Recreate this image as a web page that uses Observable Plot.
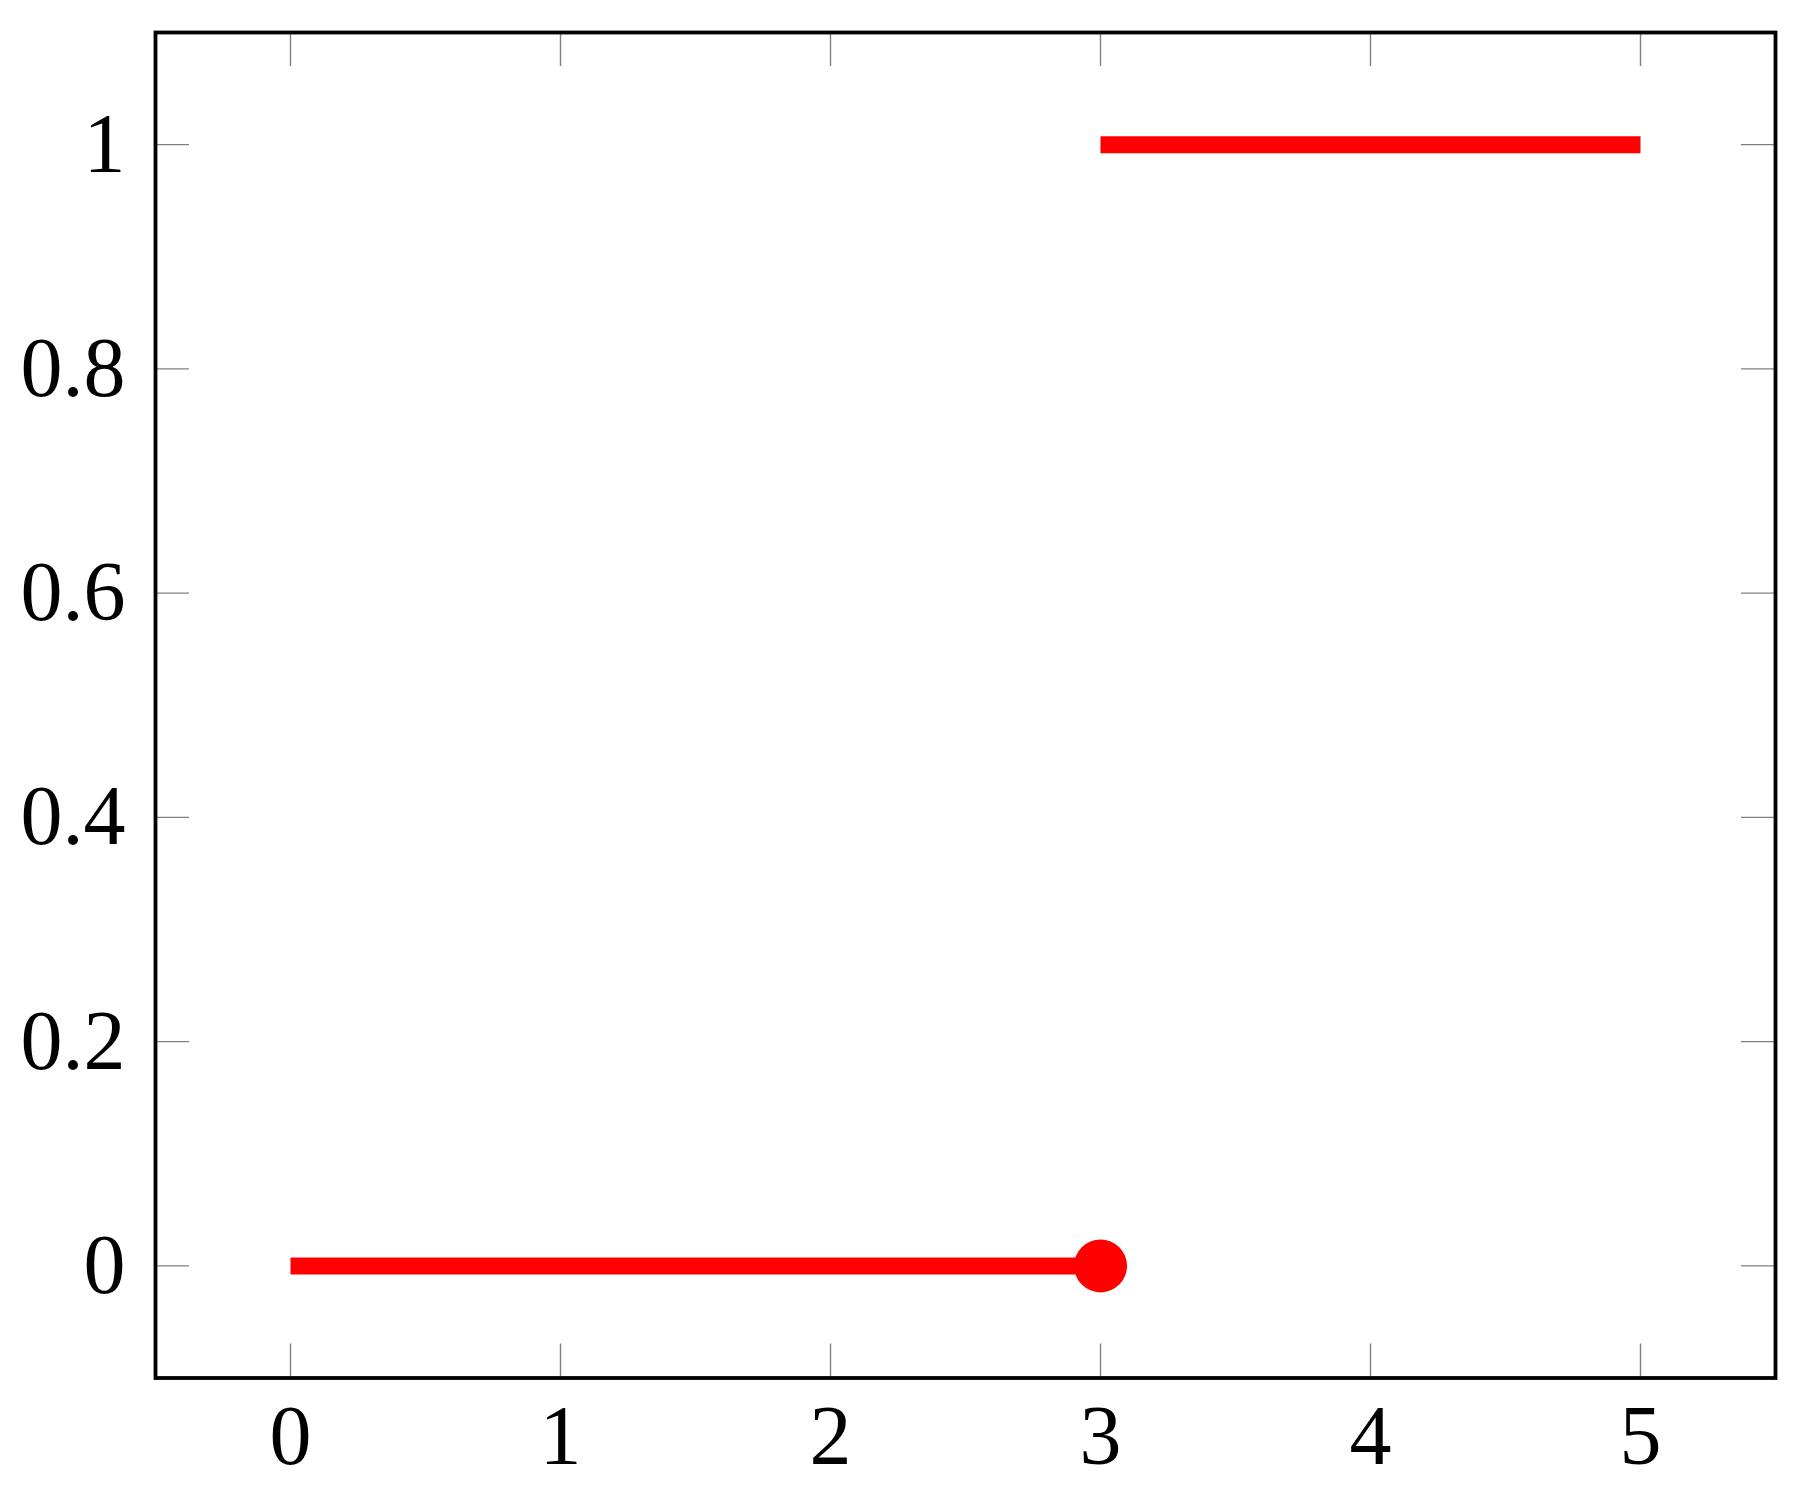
<!DOCTYPE html>
<html>
<head>
<meta charset="utf-8">
<script src="https://cdn.jsdelivr.net/npm/d3@7"></script>
<script src="https://cdn.jsdelivr.net/npm/@observablehq/plot@0.6"></script>
<style>
  html, body { margin: 0; padding: 0; background: #fff; }
  svg { display: block; }
</style>
</head>
<body>
<div id="chart"></div>
<script>
const xTicks = [0, 1, 2, 3, 4, 5];
const yTicks = [0, 0.2, 0.4, 0.6, 0.8, 1];
const segX1 = [0, 3];
const segX2 = [3, 5];
const segY = [0, 1];
const dotX = [3];
const dotY = [0];

const segments = segX1.map((x1, i) => ({x1, x2: segX2[i], y: segY[i]}));
const dots = dotX.map((x, i) => ({x, y: dotY[i]}));

const W = 1803, H = 1490;
const mL = 155, mR = 28, mT = 32, mB = 112.5;
const frameH = H - mT - mB, frameW = W - mL - mR;
const tickLen = 34;
const tickColor = "#808080";

const chart = Plot.plot({
  width: W,
  height: H,
  marginLeft: mL,
  marginRight: mR,
  marginTop: mT,
  marginBottom: mB,
  style: {fontFamily: "'Liberation Serif', 'DejaVu Serif', serif", fontSize: "84px", color: "black", background: "white"},
  x: {domain: [-0.5, 5.5]},
  y: {domain: [-0.1, 1.1]},
  marks: [
    Plot.axisX(xTicks, {anchor: "bottom", tickSize: 0, tickPadding: 26, tickFormat: d => String(d), fontSize: 84, fill: "black", label: null}),
    Plot.axisY(yTicks, {anchor: "left", tickSize: 0, tickPadding: 30, tickFormat: d => String(d), fontSize: 84, fill: "black", label: null}),
    // inward ticks on all four sides
    Plot.tickX(xTicks, {x: d => d, insetTop: frameH - tickLen, stroke: tickColor, strokeWidth: 1.4}),
    Plot.tickX(xTicks, {x: d => d, insetBottom: frameH - tickLen, stroke: tickColor, strokeWidth: 1.4}),
    Plot.tickY(yTicks, {y: d => d, insetRight: frameW - tickLen, stroke: tickColor, strokeWidth: 1.4}),
    Plot.tickY(yTicks, {y: d => d, insetLeft: frameW - tickLen, stroke: tickColor, strokeWidth: 1.4}),
    Plot.link(segments, {x1: "x1", x2: "x2", y1: "y", y2: "y", stroke: "#ff0000", strokeWidth: 17, strokeLinecap: "butt"}),
    Plot.dot(dots, {x: "x", y: "y", r: 26.5, fill: "#ff0000", stroke: "none"}),
    Plot.frame({stroke: "black", strokeWidth: 3.8})
  ]
});
document.getElementById("chart").appendChild(chart);
</script>
</body>
</html>
